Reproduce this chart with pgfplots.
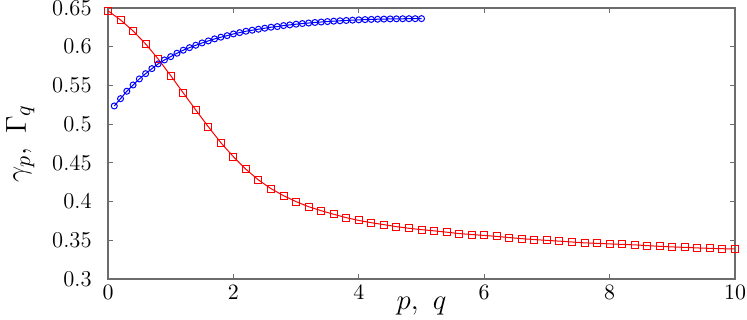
\documentclass[border=0pt]{standalone}
\usepackage{pgfplots}
\pgfplotsset{compat=1.18}
\begin{document}
\begin{tikzpicture}
\begin{axis}[
  name=ax,
  scale only axis,
  width=313.5pt, height=135.5pt,
  xmin=0, xmax=10, ymin=0.3, ymax=0.65,
  xtick={0,2,4,6,8,10},
  ytick={0.3,0.35,0.4,0.45,0.5,0.55,0.6,0.65},
  yticklabels={0.3,0.35,0.4,0.45,0.5,0.55,0.6,0.65},
  tick align=inside,
  major tick length=2.5pt,
  axis line style={gray!85!black, line width=0.75pt},
  every tick/.style={gray!85!black, line width=0.5pt},
  tick label style={font=\fontsize{11.3}{13}\selectfont},
  yticklabel style={anchor=east, inner sep=0pt, xshift=-8pt},
  xticklabel style={anchor=north, inner sep=0pt, yshift=-3pt},
  xlabel={$p,\ q$},
  ylabel={$\gamma_p,\ \Gamma_q$},
  label style={font=\fontsize{15.5}{17}\selectfont},
  xlabel style={at={(axis description cs:0.5,-0.1125)}, anchor=base},
  ylabel style={at={(axis description cs:-0.140,0.5)}, anchor=center, rotate=0},
  clip=false,
]
% Gamma_q (red squares)
\addplot[red, line width=0.5pt, mark=square, mark size=1.75pt, mark options={solid, line width=0.5pt}]
  coordinates {
    (0.0,0.6463) (0.2,0.6346) (0.4,0.6204) (0.6,0.6036) (0.8,0.5842)
    (1.0,0.5627) (1.2,0.5403) (1.4,0.5183) (1.6,0.4966) (1.8,0.4760)
    (2.0,0.4579) (2.2,0.4417) (2.4,0.4279) (2.6,0.4167) (2.8,0.4076)
    (3.0,0.3999) (3.2,0.3934) (3.4,0.3882) (3.6,0.3836) (3.8,0.3792)
    (4.0,0.3756) (4.2,0.3727) (4.4,0.3702) (4.6,0.3676) (4.8,0.3655)
    (5.0,0.3637) (5.2,0.3622) (5.4,0.3605) (5.6,0.3587) (5.8,0.3574)
    (6.0,0.3563) (6.2,0.3550) (6.4,0.3535) (6.6,0.3521) (6.8,0.3509)
    (7.0,0.3499) (7.2,0.3489) (7.4,0.3478) (7.6,0.3467) (7.8,0.3460)
    (8.0,0.3453) (8.2,0.3447) (8.4,0.3441) (8.6,0.3431) (8.8,0.3422)
    (9.0,0.3414) (9.2,0.3409) (9.4,0.3401) (9.6,0.3396) (9.8,0.3391)
    (10.0,0.3388)
  };
% gamma_p (blue circles)
\addplot[blue, line width=0.5pt, mark=o, mark size=1.5pt, mark options={solid, line width=0.5pt}]
  coordinates {
    (0.1,0.5235) (0.2,0.5329) (0.3,0.5425) (0.4,0.5506) (0.5,0.5584)
    (0.6,0.5652) (0.7,0.5717) (0.8,0.5778) (0.9,0.5829) (1.0,0.5872)
    (1.1,0.5916) (1.2,0.5955) (1.3,0.5988) (1.4,0.6019) (1.5,0.6049)
    (1.6,0.6075) (1.7,0.6101) (1.8,0.6123) (1.9,0.6143) (2.0,0.6165)
    (2.1,0.6182) (2.2,0.6200) (2.3,0.6213) (2.4,0.6226) (2.5,0.6239)
    (2.6,0.6252) (2.7,0.6260) (2.8,0.6273) (2.9,0.6282) (3.0,0.6291)
    (3.1,0.6299) (3.2,0.6306) (3.3,0.6313) (3.4,0.6319) (3.5,0.6325)
    (3.6,0.6330) (3.7,0.6335) (3.8,0.6339) (3.9,0.6343) (4.0,0.6347)
    (4.1,0.6350) (4.2,0.6353) (4.3,0.6355) (4.4,0.6357) (4.5,0.6359)
    (4.6,0.6360) (4.7,0.6361) (4.8,0.6362) (4.9,0.6362) (5.0,0.6363)
  };
\end{axis}
\pgfresetboundingbox
\path[use as bounding box] ([xshift=-54pt,yshift=-20.5pt]ax.south west) rectangle ([xshift=6pt,yshift=4pt]ax.north east);
\end{tikzpicture}
\end{document}
